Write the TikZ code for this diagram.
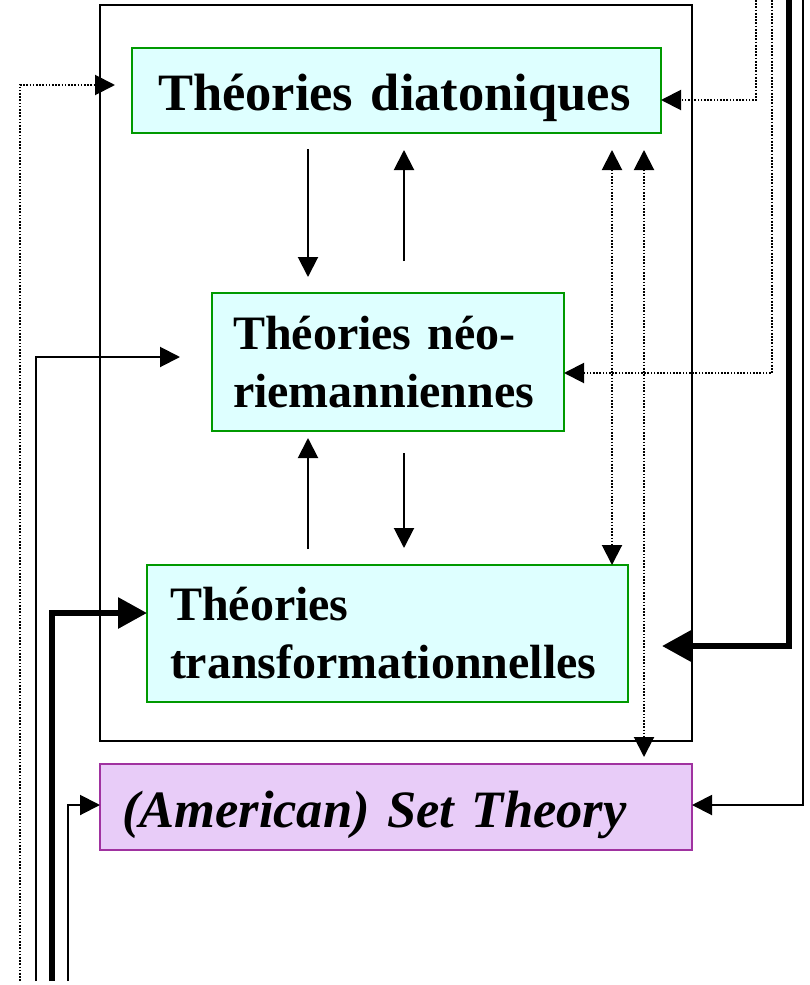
\documentclass[tikz,border=0pt]{standalone}
\usepackage{fontspec}
\setmainfont{Liberation Serif}
\usetikzlibrary{arrows.meta}
\definecolor{boxgreen}{RGB}{0,153,0}
\definecolor{boxcyan}{RGB}{222,255,255}
\definecolor{boxpurple}{RGB}{160,50,160}
\definecolor{fillpurple}{RGB}{232,204,248}
\tikzset{
  framebox/.style={draw=black, line width=2pt, rectangle, anchor=north west, inner sep=0pt, outer sep=0pt},
  greenbox/.style={draw=boxgreen, fill=boxcyan, line width=2pt, rectangle, anchor=north west, outer sep=0pt, inner ysep=0pt, align=left},
  setbox/.style={draw=boxpurple, fill=fillpurple, line width=2pt, rectangle, anchor=north west, outer sep=0pt, inner ysep=0pt, align=left},
  tipthin/.tip={Triangle[width=20pt,length=20pt]},
  tipthick/.tip={Triangle[width=30pt,length=29pt]},
  thinline/.style={line width=2pt, line join=miter},
  dotline/.style={line width=2pt, dash pattern=on 1.7pt off 1.5pt},
  thickline/.style={line width=6pt, line join=miter},
}
\begin{document}
\begin{tikzpicture}[x=1pt, y=-1pt]
\useasboundingbox (0,0) rectangle (809,985);
% frame
\node[framebox, minimum width=592pt, minimum height=736pt] (frame) at (100,5) {};
% boxes
\node[greenbox, minimum width=529pt, minimum height=85pt, inner xsep=26pt, text width=477pt,
      text height=39pt, text depth=0pt, font={\fontsize{52.5}{60}\selectfont\bfseries}]
      (dia) at (132,48) {Théories diatoniques};
\node[greenbox, minimum width=352pt, minimum height=138pt, inner xsep=21pt, text width=310pt,
      font={\fontsize{48}{58}\selectfont\bfseries}]
      (neo) at (212,293) {Théories néo-\\riemanniennes};
\node[greenbox, minimum width=481pt, minimum height=137pt, inner xsep=23pt, text width=435pt,
      font={\fontsize{48}{58}\selectfont\bfseries}]
      (tra) at (147,565) {Théories\\transformationnelles};
\node[setbox, minimum width=592pt, minimum height=86pt, inner xsep=22pt, text width=548pt,
      text height=40pt, text depth=0pt, font={\fontsize{52.5}{60}\selectfont\bfseries\itshape}]
      (set) at (100,764) {(American) Set Theory};
% coordinates for free ends
\coordinate (a1s) at (308,149); \coordinate (a1e) at (308,277);
\coordinate (a2s) at (404,261); \coordinate (a2e) at (404,150);
\coordinate (a3s) at (308,549); \coordinate (a3e) at (308,438);
\coordinate (a4s) at (404,453); \coordinate (a4e) at (404,548);
\coordinate (d1t) at (612,150); \coordinate (d1b) at (612,565);
\coordinate (d2t) at (644,150); \coordinate (d2b) at (644,757);
\coordinate (tR1) at (756,0); \coordinate (eR1) at (661,100);
\coordinate (tR2) at (772,0); \coordinate (eR2) at (564,373);
\coordinate (tR3) at (789,0); \coordinate (eR3) at (662,646);
\coordinate (tR4) at (803,0); \coordinate (eR4) at (692,805);
\coordinate (bL1) at (20,981); \coordinate (eL1) at (115,85);
\coordinate (bL2) at (36,981); \coordinate (eL2) at (180,357);
\coordinate (bL3) at (52,981); \coordinate (eL3) at (147,613);
\coordinate (bL4) at (68,981); \coordinate (eL4) at (100,805);
% internal arrows
\draw[thinline, -tipthin] (a1s) -- (a1e);
\draw[thinline, -tipthin] (a2s) -- (a2e);
\draw[thinline, -tipthin] (a3s) -- (a3e);
\draw[thinline, -tipthin] (a4s) -- (a4e);
\draw[dotline, tipthin-tipthin] (d1t) -- (d1b);
\draw[dotline, tipthin-tipthin] (d2t) -- (d2b);
% right side feeds
\draw[dotline, -tipthin] (tR1) |- (eR1);
\draw[dotline, -tipthin] (tR2) |- (eR2);
\draw[thickline, -tipthick] (tR3) |- (eR3);
\draw[thinline, -tipthin] (tR4) |- (eR4);
% left side feeds
\draw[dotline, -tipthin] (bL1) |- (eL1);
\draw[thinline, -tipthin] (bL2) |- (eL2);
\draw[thickline, -tipthick] (bL3) |- (eL3);
\draw[thinline, -tipthin] (bL4) |- (eL4);
\end{tikzpicture}
\end{document}
